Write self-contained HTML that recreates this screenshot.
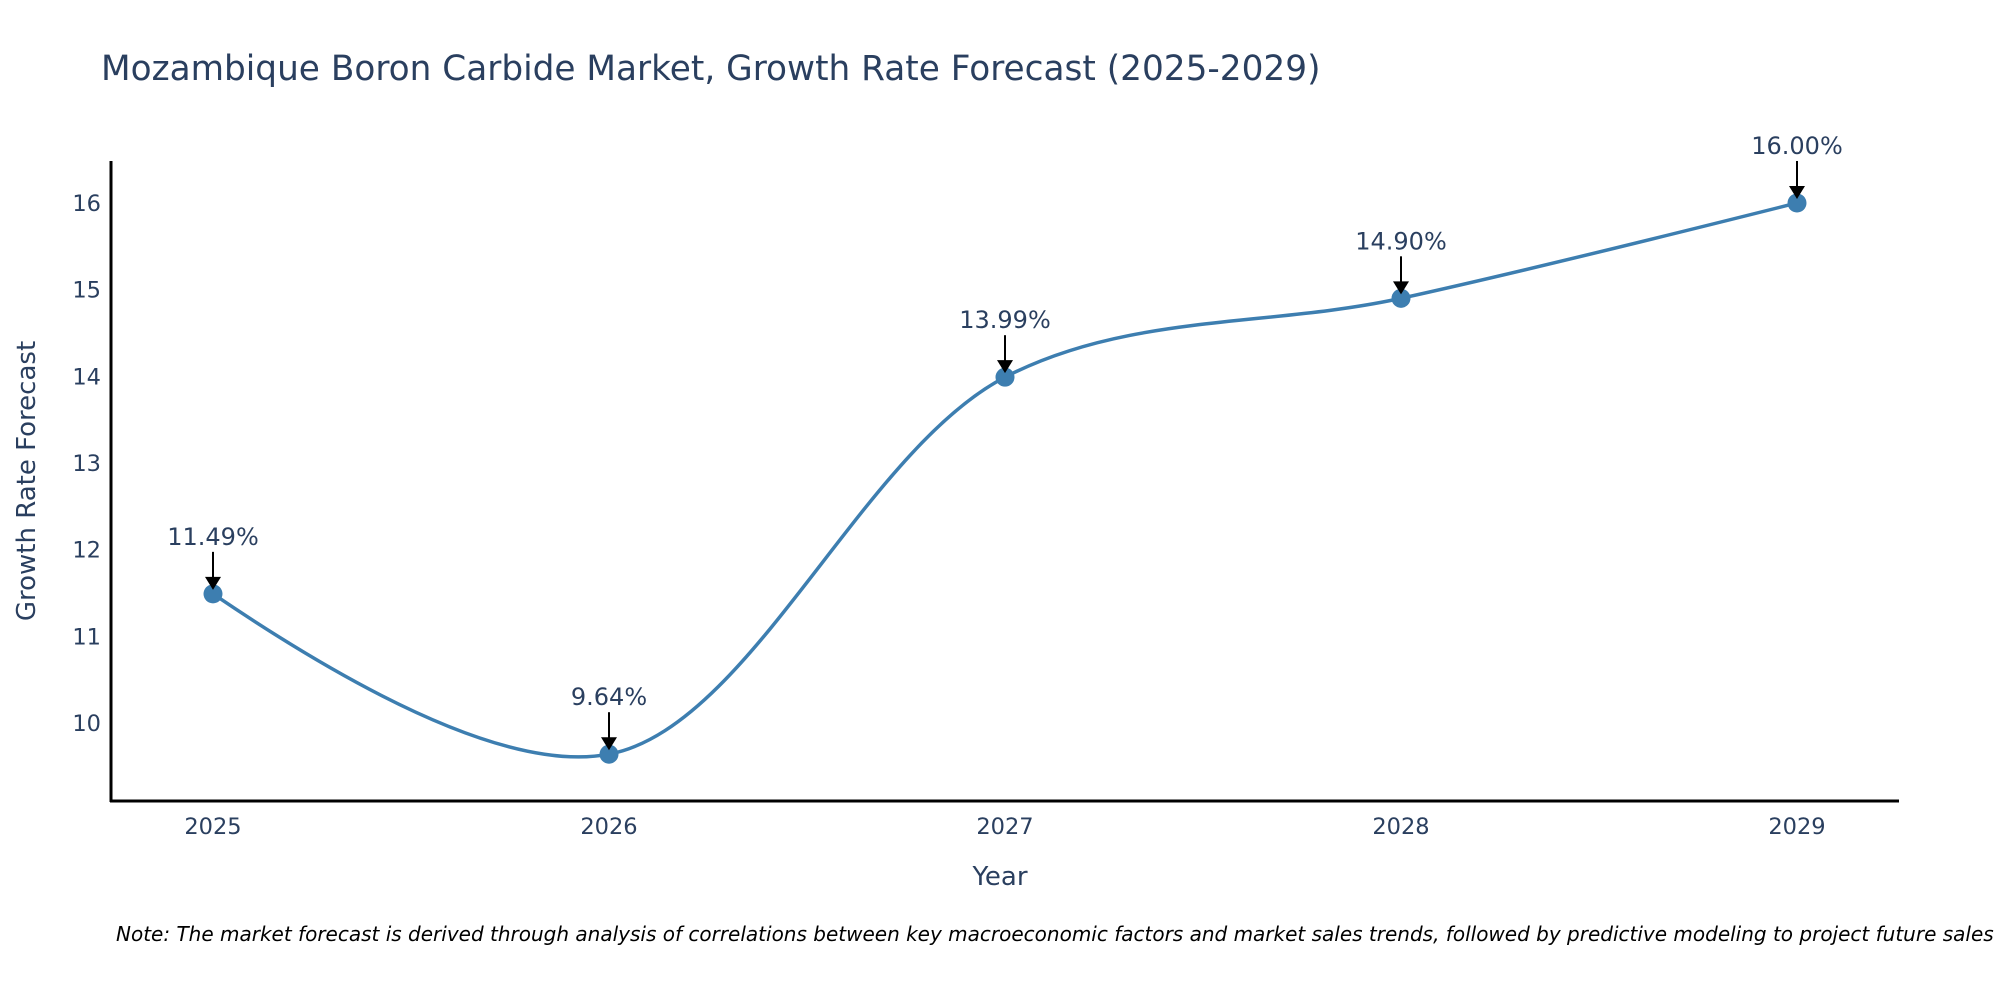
<!DOCTYPE html>
<html><head><meta charset="utf-8"><style>
body{margin:0;background:#fff;}
svg{display:block;font-family:"DejaVu Sans","Liberation Sans",sans-serif;}
</style></head><body>
<svg id="chart" width="2000" height="1000" viewBox="0 0 2000 1000">
<text x="101" y="80" font-size="34.3" fill="#2a3f5f">Mozambique Boron Carbide Market, Growth Rate Forecast (2025-2029)</text>
<g id="yticks"></g>
<g id="xticks"></g>
<line x1="111" y1="161" x2="111" y2="802" stroke="#000" stroke-width="3"/>
<line x1="110" y1="801" x2="1899" y2="801" stroke="#000" stroke-width="3"/>
<text x="1000" y="885" font-size="26" fill="#2a3f5f" text-anchor="middle">Year</text>
<text x="35" y="481" font-size="26" fill="#2a3f5f" text-anchor="middle" transform="rotate(-90 35 481)">Growth Rate Forecast</text>
<path id="line" fill="none" stroke="#3d7eb0" stroke-width="3.5"/>
<g id="points"></g>
<g id="annots"></g>
<text x="116" y="941" font-size="20" font-style="italic" fill="#000">Note: The market forecast is derived through analysis of correlations between key macroeconomic factors and market sales trends, followed by predictive modeling to project future sales</text>
</svg>
<script>
const years = [2025, 2026, 2027, 2028, 2029];
const rates = [11.49, 9.64, 13.99, 14.90, 16.00];
const labels = ["11.49%", "9.64%", "13.99%", "14.90%", "16.00%"];
const yTicks = [10, 11, 12, 13, 14, 15, 16];

const NS = "http://www.w3.org/2000/svg";
function xs(v){ return 213 + (v - 2025) * 396; }
function ys(v){ return 723 - (v - 10) * 86.67; }
function mk(tag, attrs, parent){ const e = document.createElementNS(NS, tag); for (const k in attrs) e.setAttribute(k, attrs[k]); parent.appendChild(e); return e; }

const yg = document.getElementById('yticks');
yTicks.forEach(t => {
  const e = mk('text', {x: 101, y: ys(t) + 8, 'font-size': 22.5, fill: '#2a3f5f', 'text-anchor': 'end'}, yg);
  
  
  e.textContent = t;
});
const xg = document.getElementById('xticks');
years.forEach(y => {
  const e = mk('text', {x: xs(y), y: 834, 'font-size': 22.5, fill: '#2a3f5f', 'text-anchor': 'middle'}, xg);
  
  
  e.textContent = y;
});

const pts = years.map((y, i) => [xs(y), ys(rates[i])]);
function tangent(p, c, n, s){
  const d1x = p[0]-c[0], d1y = p[1]-c[1], d2x = n[0]-c[0], d2y = n[1]-c[1];
  const d1a = Math.pow(d1x*d1x+d1y*d1y, 0.25), d2a = Math.pow(d2x*d2x+d2y*d2y, 0.25);
  const nx = (d2a*d2a*d1x - d1a*d1a*d2x)*s, ny = (d2a*d2a*d1y - d1a*d1a*d2y)*s;
  const a = 3*d2a*(d1a+d2a), b = 3*d1a*(d1a+d2a);
  return [[c[0]+nx/a, c[1]+ny/a], [c[0]-nx/b, c[1]-ny/b]];
}
const tg = [];
for (let i = 1; i < pts.length-1; i++) tg.push(tangent(pts[i-1], pts[i], pts[i+1], 1.0));
let d = 'M' + pts[0] + 'Q' + tg[0][0] + ' ' + pts[1];
for (let i = 2; i < pts.length-1; i++) d += 'C' + tg[i-2][1] + ' ' + tg[i-1][0] + ' ' + pts[i];
d += 'Q' + tg[tg.length-1][1] + ' ' + pts[pts.length-1];
document.getElementById('line').setAttribute('d', d);

const pg = document.getElementById('points'), ag = document.getElementById('annots');
pts.forEach((p, i) => {
  const c = mk('circle', {cx: p[0], cy: p[1], r: 9.5, fill: '#3d7eb0'}, pg);
  
  
  const l = mk('line', {x1: p[0], y1: p[1]-42, x2: p[0], y2: p[1]-16, stroke: '#000', 'stroke-width': 2}, ag);
  
  
  const h = mk('polygon', {points: (p[0]-8)+','+(p[1]-17)+' '+(p[0]+8)+','+(p[1]-17)+' '+p[0]+','+(p[1]-4), fill: '#000'}, ag);
  
  
  const t = mk('text', {x: p[0], y: p[1]-49, 'font-size': 24, fill: '#2a3f5f', 'text-anchor': 'middle'}, ag);
  
  
  t.textContent = labels[i];
});
</script>
</body></html>
